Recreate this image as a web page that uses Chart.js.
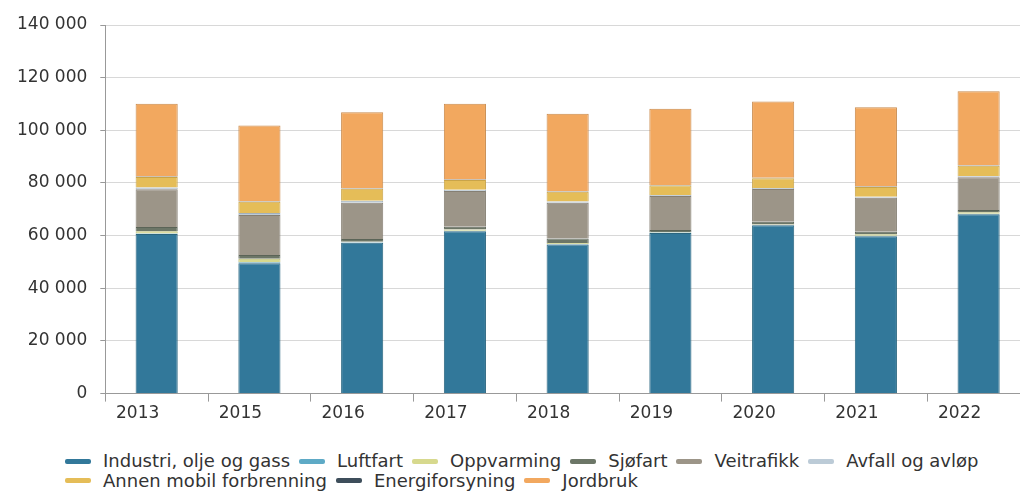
<!DOCTYPE html>
<html>
<head>
<meta charset="utf-8">
<script src="https://cdn.jsdelivr.net/npm/chart.js@4.4.1/dist/chart.umd.min.js"></script>
<style>
  html, body { margin: 0; padding: 0; background: #fff; overflow: hidden; }
  body { width: 1020px; height: 495px; position: relative; }
  #wrap { position: absolute; left: 0; top: 0; width: 1030px; height: 440px; }
  #legend {
    position: absolute; left: 65px; top: 451px; width: 950px;
    font-family: "DejaVu Sans", sans-serif; font-size: 18px; color: #333;
    line-height: 19.5px;
  }
  #legend .item { display: inline-block; margin-right: 9px; white-space: nowrap; }
  #legend .sw {
    display: inline-block; width: 26px; height: 5px; border-radius: 2px;
    margin-right: 12px; vertical-align: middle; position: relative; top: -1px;
  }
</style>
</head>
<body>
<div id="wrap"><canvas id="grafik"></canvas></div>
<div id="legend"></div>
<script>
const years = ["2013", "2015", "2016", "2017", "2018", "2019", "2020", "2021", "2022"];
const industri = [60600, 49500, 57300, 61700, 56650, 61000, 63900, 59800, 68100];
const luftfart = [200, 400, 150, 150, 150, 150, 150, 200, 200];
const oppvarming = [900, 1300, 200, 500, 400, 200, 200, 550, 550];
const sjofart = [1600, 1400, 1050, 1000, 1700, 750, 1000, 900, 850];
const veitrafikk = [14300, 15200, 13800, 13600, 13600, 12950, 12450, 12950, 12500];
const avfall = [700, 800, 700, 500, 500, 400, 400, 400, 400];
const annenMobil = [4000, 4300, 4600, 3700, 3700, 3550, 3700, 3700, 3900];
const energi = [200, 200, 200, 200, 200, 200, 200, 200, 200];
const jordbruk = [27600, 28700, 28900, 28750, 29400, 29000, 28900, 30100, 28100];
const yTicks = [0, 20000, 40000, 60000, 80000, 100000, 120000, 140000];

const series = [
  { label: "Industri, olje og gass", data: industri, color: "#32789a", border: "#2a6680" },
  { label: "Luftfart", data: luftfart, color: "#5eaac6", border: "#4f93ad" },
  { label: "Oppvarming", data: oppvarming, color: "#d7d98e", border: "#b9bb77" },
  { label: "Sjøfart", data: sjofart, color: "#6c7667", border: "#5b6457" },
  { label: "Veitrafikk", data: veitrafikk, color: "#9c9588", border: "#857f73" },
  { label: "Avfall og avløp", data: avfall, color: "#bccbd7", border: "#a2b0bc" },
  { label: "Annen mobil forbrenning", data: annenMobil, color: "#e5bd58", border: "#c9a449" },
  { label: "Energiforsyning", data: energi, color: "#3e4e5b", border: "#34424d" },
  { label: "Jordbruk", data: jordbruk, color: "#f2a85f", border: "#c98a4c" },
];

const fmt = (v) => String(v).replace(/\B(?=(\d{3})+(?!\d))/g, " ");

// html legend so the rows can sit tight like the original
const htmlLegend = {
  id: "htmlLegend",
  afterUpdate(chart) {
    const box = document.getElementById("legend");
    box.innerHTML = "";
    chart.data.datasets.forEach((ds) => {
      const item = document.createElement("span");
      item.className = "item";
      const sw = document.createElement("span");
      sw.className = "sw";
      sw.style.background = ds.backgroundColor;
      item.appendChild(sw);
      item.appendChild(document.createTextNode(ds.label));
      box.appendChild(item);
    });
  },
};

new Chart(document.querySelector("#grafik"), {
  type: "bar",
  data: {
    labels: years,
    datasets: series.map((s) => ({
      label: s.label,
      data: s.data,
      backgroundColor: s.color,
      borderColor: s.border,
      borderWidth: 1,
      categoryPercentage: 1,
      barPercentage: 0.41,
    })),
  },
  options: {
    responsive: true,
    maintainAspectRatio: false,
    animation: false,
    layout: { padding: { left: 4, right: 0, top: 25, bottom: 14 } },
    scales: {
      x: {
        stacked: true,
        grid: { drawOnChartArea: false, tickLength: 8, color: "#999" },
        border: { color: "#999" },
        ticks: { color: "#333", font: { family: "DejaVu Sans", size: 17 }, labelOffset: -19, padding: 2 },
      },
      y: {
        stacked: true,
        min: 0,
        max: 140000,
        afterBuildTicks: (axis) => {
          axis.ticks = yTicks.map((v) => ({ value: v }));
        },
        grid: { color: "#d8d8d8", tickLength: 5, tickColor: "#999" },
        border: { color: "#999" },
        ticks: {
          color: "#333",
          font: { family: "DejaVu Sans", size: 17 },
          padding: 13,
          callback: (v) => fmt(v),
        },
      },
    },
    plugins: {
      tooltip: { enabled: false },
      legend: { display: false },
    },
  },
  plugins: [htmlLegend],
});
</script>
</body>
</html>
